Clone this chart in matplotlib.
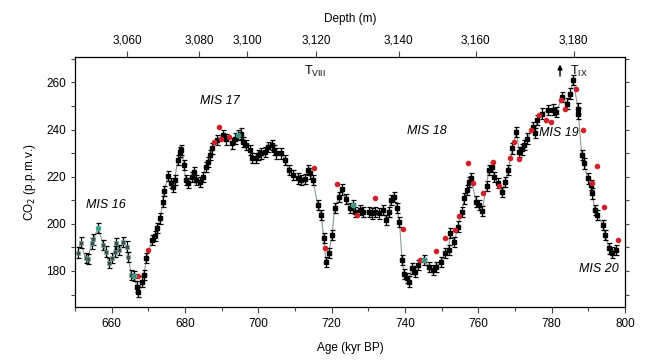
import numpy as np
import matplotlib.pyplot as plt

plt.rcParams['font.family'] = ['Liberation Sans', 'DejaVu Sans']

# main CO2 record (black, with error bars)
age = [650.7, 651.5, 652.9, 653.5, 654.5, 655.0, 656.3, 657.7, 658.4, 659.3,
       660.0, 660.9, 661.3, 662.0, 663.1, 664.1, 664.5, 665.4, 666.1, 666.8,
       667.2, 668.3, 668.8, 669.5, 671.0, 671.8, 672.5, 673.3, 673.9, 674.3,
       675.4, 676.3, 676.8, 677.2, 678.0, 678.6, 679.0, 679.7, 680.2, 680.8,
       681.8, 682.4, 683.1, 684.0, 684.8, 685.7, 686.3, 686.9, 687.5, 688.6,
       690.4, 691.1, 692.9, 693.6, 694.5, 695.4, 695.8, 696.7, 697.6, 698.4,
       699.3, 699.9, 700.8, 701.7, 702.6, 703.6, 704.2, 704.9, 706.3, 707.4,
       708.3, 709.4, 710.8, 711.7, 712.6, 713.5, 714.2, 714.9, 716.2, 717.2,
       717.8, 718.5, 719.2, 720.1, 720.8, 722.0, 722.9, 724.0, 724.9, 725.8,
       726.5, 727.8, 728.5, 730.1, 731.0, 731.9, 732.9, 733.9, 734.9, 735.6,
       736.2, 737.1, 737.8, 738.5, 739.2, 739.8, 740.5, 741.0, 741.9, 742.8,
       743.5, 745.3, 746.5, 747.6, 748.6, 749.8, 751.0, 751.9, 752.3, 753.5,
       754.4, 755.6, 756.2, 756.8, 757.4, 758.0, 759.4, 760.1, 761.0, 762.3,
       762.8, 763.7, 764.4, 765.3, 766.6, 767.3, 768.2, 769.3, 770.4, 771.2,
       771.9, 772.5, 773.4, 775.0, 775.5, 776.1, 777.5, 778.9, 780.4, 781.3,
       782.9, 784.3, 785.0, 785.9, 787.2, 787.3, 788.2, 788.9, 789.8, 790.7,
       791.1, 791.8, 792.5, 794.0, 794.6, 795.7, 796.4, 797.5]
co2 = [187.8, 192.0, 185.4, 185.0, 191.7, 193.4, 198.3, 191.0, 188.2, 183.3,
       185.4, 188.2, 191.7, 188.9, 192.4, 190.3, 186.0, 178.3, 177.9, 173.4,
       171.2, 175.5, 178.3, 185.4, 193.1, 194.8, 198.1, 202.3, 209.4, 214.0,
       220.3, 217.2, 215.7, 218.6, 227.0, 230.5, 231.3, 224.9, 218.6, 217.2,
       220.0, 222.1, 218.6, 217.8, 220.0, 224.2, 226.3, 229.2, 232.0, 235.5,
       237.6, 235.8, 234.1, 236.2, 237.6, 238.3, 234.8, 233.4, 231.3, 227.8,
       227.8, 229.2, 229.9, 230.6, 232.7, 233.4, 231.3, 229.9, 229.9, 227.0,
       222.8, 220.7, 219.3, 218.6, 218.9, 222.8, 221.4, 218.6, 208.0, 203.7,
       193.9, 183.9, 187.5, 195.3, 206.6, 211.5, 214.6, 210.5, 206.6, 208.0,
       205.1, 205.8, 205.1, 205.1, 204.4, 205.1, 204.4, 205.8, 201.6, 205.1,
       210.1, 211.5, 206.6, 200.9, 184.7, 178.7, 176.9, 175.5, 181.1, 179.7,
       182.5, 184.7, 181.8, 180.4, 181.8, 183.9, 187.5, 188.9, 196.0, 192.4,
       198.8, 205.1, 210.8, 214.3, 217.8, 219.3, 209.4, 208.0, 205.5, 216.0,
       222.8, 224.2, 220.0, 217.2, 213.6, 217.8, 222.8, 232.0, 239.0, 230.6,
       231.6, 233.4, 236.2, 241.1, 238.6, 244.0, 246.8, 248.2, 248.5, 247.5,
       253.9, 251.0, 255.3, 260.9, 248.9, 246.8, 229.2, 225.6, 219.3, 216.4,
       212.9, 205.8, 203.7, 199.5, 195.3, 189.6, 187.8, 188.9]

# second record (red dots)
red_age = [667.2, 670.0, 687.9, 689.3, 689.7, 692.0, 715.3, 718.3, 721.4, 727.0,
           731.9, 739.6, 744.1, 748.6, 751.0, 753.7, 754.8, 757.1, 758.6, 761.4,
           763.9, 765.7, 768.6, 769.8, 771.2, 774.3, 776.6, 778.4, 779.8, 782.5,
           783.7, 786.6, 788.6, 791.1, 792.5, 794.3, 798.2]
red_co2 = [177.9, 188.9, 234.8, 241.1, 236.2, 236.9, 223.5, 189.6, 216.7, 203.7,
           210.8, 197.7, 184.7, 188.6, 193.9, 197.4, 203.3, 225.6, 217.2, 212.9,
           226.3, 216.0, 227.8, 234.8, 227.3, 239.7, 246.1, 244.0, 243.3, 252.5,
           248.9, 257.4, 239.7, 217.2, 224.5, 207.0, 193.1]

# third record (teal dots)
teal_age = [656.3, 666.1, 694.5, 725.8, 745.3]
teal_co2 = [198.3, 177.9, 237.6, 208.0, 184.7]

depth_ticks = [3060, 3080, 3100, 3120, 3140, 3160, 3180]
depth_age = [664.2, 683.8, 697.0, 715.7, 738.3, 759.3, 786.0]

age = np.array(age)
co2 = np.array(co2)

fig = plt.figure(figsize=(6.5, 3.62), dpi=100)
ax = fig.add_axes([0.1154, 0.1506, 0.846, 0.692])

ax.plot(age, co2, color='#8a9a98', lw=0.8, zorder=1)
ax.errorbar(age, co2, yerr=2.2, fmt='none', ecolor='black', elinewidth=0.9,
            capsize=1.8, capthick=0.9, zorder=2)
early = age < 666
ax.plot(age[early], co2[early], 's', ms=3.2, mfc='#4a4a4a', mec='#5fb0a0', mew=0.4, zorder=3)
ax.plot(age[~early], co2[~early], 's', ms=3, color='black', zorder=3)
ax.plot(red_age, red_co2, 'o', ms=3, color='#d0202a', mec='#d0202a', zorder=4)
ax.plot(teal_age, teal_co2, 'o', ms=3.4, mfc='#5a7f78', mec='#2fd0b0', mew=0.6, zorder=4)

ax.set_xlim(650, 800)
ax.set_ylim(164.5, 270.8)
ax.set_xticks(np.arange(660, 801, 20))
ax.set_xticks(np.arange(650, 801, 10), minor=True)
ax.set_yticks(np.arange(180, 261, 20))
ax.set_yticks(np.arange(170, 271, 10), minor=True)
ax.tick_params(axis='both', which='both', direction='out', labelsize=8.5,
               length=3, width=0.8, right=True, color='#444444')
ax.tick_params(axis='x', which='major', length=4)
for s in ax.spines.values():
    s.set_color('#666666')
    s.set_linewidth(0.9)

ax.set_xlabel('Age (kyr BP)', fontsize=8.5, labelpad=9)
ax.set_ylabel('CO$_2$ (p.p.m.v.)', fontsize=8.5, labelpad=6)

top = ax.twiny()
top.set_xlim(650, 800)
top.set_xticks(depth_age)
top.set_xticklabels(['{:,}'.format(d) for d in depth_ticks])
top.tick_params(axis='x', direction='out', labelsize=8.5, length=4, width=0.8, color='#444444')
top.set_xlabel('Depth (m)', fontsize=8.5, labelpad=9)

lab = dict(fontsize=9, style='italic', ha='center', va='center')
ax.text(658.5, 208, 'MIS 16', **lab)
ax.text(689.4, 252, 'MIS 17', **lab)
ax.text(746, 239.5, 'MIS 18', **lab)
ax.text(782, 238.5, 'MIS 19', **lab)
ax.text(793, 181, 'MIS 20', **lab)
ax.text(715.5, 264.5, r'T$_{\mathregular{VIII}}$', fontsize=9, ha='center', va='center')
ax.text(787.5, 264.5, r'T$_{\mathregular{IX}}$', fontsize=9, ha='center', va='center')
ax.annotate('', xy=(782.3, 268.8), xytext=(782.3, 261.5),
            arrowprops=dict(arrowstyle='-|>', color='black', lw=1, mutation_scale=7))

fig.savefig('out.png', dpi=100)
